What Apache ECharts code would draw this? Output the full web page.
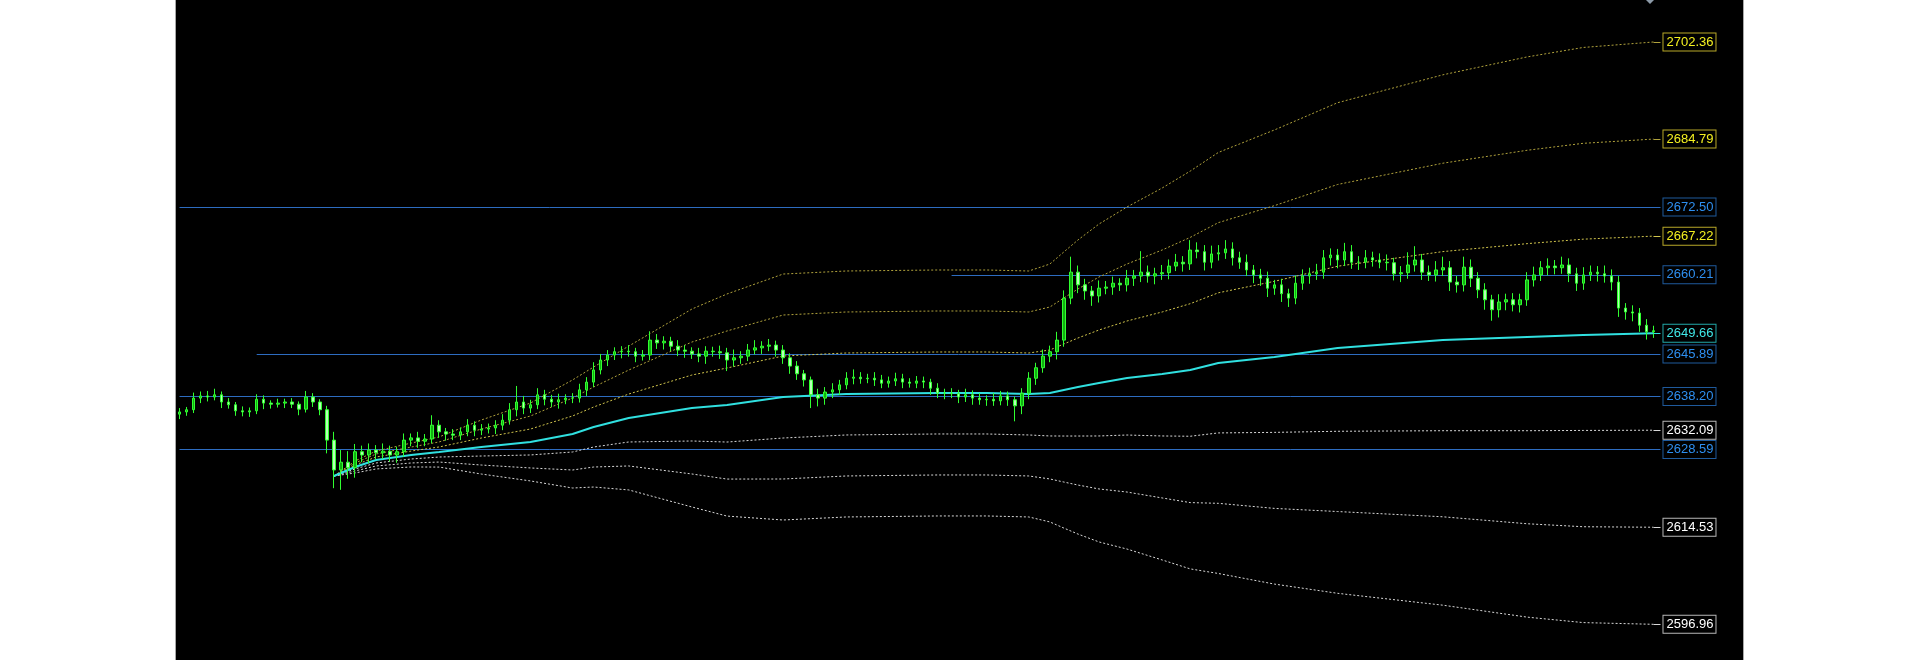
<!DOCTYPE html>
<html><head><meta charset="utf-8">
<script src="https://cdn.jsdelivr.net/npm/echarts@6/dist/echarts.min.js"></script>
<style>
html,body{margin:0;padding:0;background:#fff;width:1920px;height:660px;overflow:hidden}
#chart{position:absolute;left:175px;top:0;width:1567px;height:660px;border-left:1px solid #a8a8a8;border-right:1px solid #a8a8a8;}
</style></head><body><div id="chart"></div>
<script>
// ---- price candles (close values; open = previous close) ----
const firstOpen = 2635.0;
const closes = [
2635.4,2635.8,2637.9,2638.3,2638.1,2638.5,2637.2,2636.7,2635.6,2635.4,
2635.6,2637.7,2637.0,2636.8,2637.0,2637.2,2636.8,2635.9,2638.1,2637.2,
2635.8,2630.3,2624.9,2626.3,2625.3,2628.2,2627.6,2628.5,2628.0,2628.3,
2627.6,2628.2,2630.3,2630.7,2630.1,2630.5,2633.0,2631.8,2631.4,2631.2,
2631.8,2633.0,2632.1,2632.3,2632.5,2633.0,2633.9,2635.8,2637.2,2636.1,
2636.7,2638.5,2637.7,2637.2,2637.6,2637.9,2637.9,2639.4,2640.8,2643.0,
2644.8,2645.7,2646.3,2646.4,2646.3,2645.5,2645.7,2648.4,2647.9,2648.2,
2647.3,2646.6,2646.4,2645.9,2645.5,2646.4,2646.3,2646.1,2644.8,2645.2,
2645.5,2646.6,2647.0,2647.3,2647.5,2646.6,2645.2,2643.7,2642.3,2641.2,
2638.5,2637.9,2639.0,2639.4,2640.3,2641.5,2641.7,2641.4,2641.5,2641.2,
2640.6,2641.0,2641.4,2640.8,2640.6,2641.0,2640.8,2639.7,2638.8,2638.8,
2638.7,2638.1,2638.5,2637.9,2637.6,2637.7,2637.4,2638.3,2637.6,2636.5,
2638.8,2641.5,2643.4,2645.5,2646.3,2648.4,2656.0,2660.7,2658.4,2657.3,
2656.4,2657.8,2658.0,2658.7,2658.4,2659.6,2660.0,2660.7,2660.0,2660.4,
2660.6,2661.8,2662.5,2662.2,2664.7,2664.4,2662.5,2664.0,2664.2,2664.9,
2663.3,2662.5,2661.1,2660.2,2659.6,2657.8,2658.4,2656.8,2656.0,2658.7,
2660.0,2660.4,2660.7,2663.3,2663.8,2662.9,2664.4,2662.5,2662.5,2663.3,
2662.9,2662.5,2662.4,2660.4,2660.6,2662.0,2662.9,2660.7,2660.2,2661.1,
2661.5,2658.9,2658.4,2661.6,2659.6,2657.5,2655.7,2653.9,2655.3,2655.7,
2654.8,2655.7,2659.3,2660.2,2661.5,2661.8,2661.5,2662.0,2660.4,2658.7,
2660.2,2660.7,2660.4,2660.0,2658.9,2654.2,2653.5,2653.3,2651.1,2649.9,2650.1
];
const hiWick = [
.7,.5,1.0,.8,.9,1.1,.6,.7,.5,.8, .6,.9,.7,.5,.8,.6,.7,.5,1.1,.7,
.5,.7,1.5,2.2,2.0,1.4,1.1,1.2,.9,1.4, 1.0,.9,1.2,.8,1.1,.9,1.8,.9,.7,.9,
.8,1.1,.7,.9,.8,.9,1.1,1.2,2.9,1.1, .9,1.2,.9,.8,1.1,.7,.9,1.1,.9,1.4,
1.1,.9,.8,.9,1.1,.7,.9,1.6,1.1,.9, .8,1.1,.9,.7,1.1,.9,.8,1.1,.9,1.5,
.9,1.1,1.4,.9,1.1,.8,.9,.8,.9,.7, .6,1.1,.9,1.2,.9,1.1,1.4,.9,.8,1.1,
.9,.8,1.1,.9,.7,.9,.8,.6,.9,.8, .9,.7,1.1,.8,.9,.7,1.1,.9,.8,.6,
.9,1.1,.9,1.2,1.1,1.5,1.4,2.8,1.2,1.1, .9,1.4,1.1,1.2,.9,1.5,1.1,3.8,1.2,1.1,
1.4,1.2,1.5,1.1,1.8,1.4,1.2,1.5,1.4,1.6, 1.2,1.1,1.4,.9,1.1,1.2,.9,1.1,.9,1.4,
1.2,1.1,1.5,1.4,1.2,1.1,1.6,1.2,1.1,1.4, 1.1,1.2,1.4,.9,1.2,2.3,2.5,1.1,1.2,1.6,
2.0,1.2,1.1,1.9,1.4,1.1,1.2,.9,1.4,1.1, 1.2,1.1,1.4,1.5,1.2,1.4,1.1,1.5,1.2,1.1,
1.4,1.2,1.1,1.5,1.2,1.1,.9,1.2,.9,1.1,.9
];
const loWick = [
.9,.7,.6,.9,.8,.6,1.1,.7,.9,.8, .9,.6,1.1,.8,.6,.9,.7,1.1,.6,.9,
1.0,2.4,3.3,3.6,2.0,1.8,1.3,1.5,1.2,1.1, 1.2,1.4,.9,1.1,1.2,.9,.8,1.1,1.2,.9,
.9,.8,1.1,.9,.8,1.1,.9,.8,1.2,1.1, .9,.8,1.1,.9,1.2,.8,.9,.8,1.1,.9,
.8,1.1,.9,1.2,.9,1.1,.8,.9,1.1,1.2, .9,1.1,1.2,.9,1.1,1.4,.9,1.1,2.0,1.2,
1.1,.9,.8,1.1,.9,1.2,1.1,1.4,1.1,1.2, 2.4,1.5,1.2,1.1,.9,.8,1.1,.9,.8,1.1,
.9,.8,.9,1.1,.8,.9,1.1,1.2,.9,1.1, .8,1.1,.9,1.2,.9,1.1,.9,.8,1.1,2.8,
1.5,1.1,1.2,.9,1.1,1.4,1.2,1.1,1.5,1.6, 1.8,1.2,1.1,1.4,1.1,1.2,1.4,1.1,1.2,1.5,
1.1,1.2,.9,1.4,1.1,1.2,1.5,1.1,1.2,1.1, 1.4,1.2,1.1,1.5,1.4,1.6,1.2,1.5,1.6,1.1,
1.2,1.4,1.1,1.2,1.4,1.5,1.1,1.2,1.4,1.1, 1.2,1.1,1.4,1.2,1.5,1.1,1.2,1.4,1.1,1.2,
1.1,1.6,1.4,1.2,1.6,1.5,1.8,2.0,1.4,1.5, 1.2,1.4,1.1,1.2,1.1,1.4,1.2,1.1,1.5,1.4,
1.2,1.1,1.4,1.2,1.5,1.6,1.4,1.5,1.2,1.4,1.1
];
// ---- VWAP and deviation bands, read at these candle indices ----
const lineIdx = [22,25,28,33,37,43,50,56,59,64,73,78,86,95,108,115,121,124,126,128,131,135,140,144,148,156,165,180,192,200,210];
const vwap   = [2623.80,2625.43,2626.70,2627.60,2628.15,2629.05,2629.96,2631.41,2632.67,2634.30,2636.11,2636.65,2638.10,2638.65,2638.83,2638.83,2638.65,2638.83,2639.37,2639.91,2640.64,2641.54,2642.27,2642.99,2644.26,2645.34,2646.97,2648.42,2648.96,2649.32,2649.66];
const upper1 = [2623.80,2625.79,2627.24,2628.32,2629.06,2630.68,2632.31,2634.67,2636.29,2638.64,2642.08,2643.35,2645.52,2646.07,2646.25,2646.25,2646.07,2646.61,2647.70,2648.78,2650.23,2651.86,2653.49,2654.99,2656.96,2659.04,2661.77,2664.42,2665.86,2666.67,2667.22];
const upper2 = [2623.80,2626.15,2627.78,2629.04,2629.97,2632.31,2634.66,2637.93,2639.91,2642.98,2648.05,2650.05,2652.94,2653.49,2653.67,2653.67,2653.49,2654.39,2656.03,2657.65,2659.82,2662.18,2664.71,2666.99,2669.66,2672.74,2676.57,2680.42,2682.76,2684.02,2684.79];
const upper3 = [2623.80,2626.51,2628.32,2629.76,2630.88,2633.94,2637.01,2641.19,2643.53,2647.32,2654.02,2656.75,2660.36,2660.91,2661.09,2661.09,2660.91,2662.17,2664.36,2666.52,2669.41,2672.50,2675.93,2678.99,2682.36,2686.44,2691.37,2696.42,2699.66,2701.37,2702.36];
const lower1 = [2623.80,2625.07,2626.16,2626.88,2627.24,2627.42,2627.61,2628.15,2629.05,2629.96,2630.14,2629.95,2630.68,2631.23,2631.41,2631.41,2631.23,2631.05,2631.04,2631.04,2631.05,2631.22,2631.05,2631.00,2631.60,2631.70,2631.90,2632.00,2632.00,2632.05,2632.09];
const lower2 = [2623.80,2624.71,2625.62,2626.16,2626.33,2625.79,2625.26,2624.89,2625.43,2625.62,2624.17,2623.25,2623.26,2623.81,2623.99,2623.99,2623.81,2623.27,2622.71,2622.17,2621.46,2620.90,2619.83,2618.99,2618.86,2617.94,2617.37,2616.42,2615.16,2614.62,2614.53];
const lower3 = [2623.80,2624.35,2625.08,2625.44,2625.42,2624.16,2622.91,2621.63,2621.81,2621.28,2618.20,2616.55,2615.84,2616.39,2616.57,2616.57,2616.39,2615.49,2614.38,2613.30,2611.87,2610.58,2608.61,2606.99,2606.16,2604.24,2602.57,2600.42,2598.26,2597.27,2596.96];
// ---- horizontal levels ----
const levelValues = [2672.50, 2660.21, 2645.89, 2638.20, 2628.59];
const levelStartIdx = [0, 110, 11, 0, 0];
const totalSlots = 212;

const FONT = 'Liberation Sans';
const categories = Array.from({length: totalSlots}, (_, i) => String(i));
const ohlc = closes.map((c, i) => {
  const o = i === 0 ? firstOpen : closes[i - 1];
  return [o, c, Math.min(o, c) - loWick[i], Math.max(o, c) + hiWick[i]];
});
const endIdx = totalSlots - 1;

function tag(text, color, border) {
  return {
    show: true, position: 'end', distance: 3, formatter: text,
    color: color, backgroundColor: '#000', borderColor: border, borderWidth: 1,
    padding: [1, 2, 1, 3], fontFamily: FONT, fontSize: 13, lineHeight: 15
  };
}

function bandSeries(name, values, color, labelColor, borderColor, width, dash) {
  const last = values[values.length - 1];
  return {
    name, type: 'line', z: 2, showSymbol: false, silent: true, animation: false,
    data: lineIdx.map((ix, k) => [ix, values[k]]),
    lineStyle: { color, width, type: dash },
    markLine: {
      silent: true, symbol: ['none', 'none'], animation: false,
      data: [[
        { coord: [lineIdx[lineIdx.length - 1], last], lineStyle: { color, width: 1, type: 'solid' },
          label: tag(last.toFixed(2), labelColor, borderColor) },
        { coord: [endIdx, last] }
      ]]
    }
  };
}

const levelLines = levelValues.map((v, k) => [
  { coord: [levelStartIdx[k], v], lineStyle: { color: '#2d6cc0', width: 1, type: 'solid' },
    label: tag(v.toFixed(2), '#2e8ff0', '#1f5a9c') },
  { coord: [endIdx, v] }
]);

const chart = echarts.init(document.getElementById('chart'), null, { renderer: 'canvas' });
chart.setOption({
  backgroundColor: '#000',
  animation: false,
  grid: { left: 0, right: 79, top: 0, bottom: 0 },
  xAxis: { type: 'category', data: categories, boundaryGap: true,
    axisLine: { show: false }, axisTick: { show: false }, axisLabel: { show: false }, splitLine: { show: false } },
  yAxis: { type: 'value', min: 2590.5, max: 2709.96, scale: true,
    axisLine: { show: false }, axisTick: { show: false }, axisLabel: { show: false }, splitLine: { show: false } },
  graphic: [{ type: 'polygon', shape: { points: [[1470, 0], [1478, 0], [1474, 4]] }, style: { fill: '#8c9aa8' }, silent: true }],
  series: [
    {
      name: 'price', type: 'candlestick', z: 3, data: ohlc, barWidth: 3,
      itemStyle: { color: '#10b010', color0: '#b8ffb8', borderColor: '#30ff30', borderColor0: '#30ff30', borderWidth: 1 },
      markLine: { silent: true, symbol: ['none', 'none'], animation: false, z: 1, data: levelLines }
    },
    bandSeries('upper3', upper3, '#b0a23c', '#f4f020', '#b8a828', 1, [2, 2]),
    bandSeries('upper2', upper2, '#b0a23c', '#f4f020', '#b8a828', 1, [2, 2]),
    bandSeries('upper1', upper1, '#d0c44c', '#f4f020', '#b8a828', 1, [2, 2]),
    bandSeries('lower1', lower1, '#d8d8d8', '#ffffff', '#b8b8b8', 1, [2, 2]),
    bandSeries('lower2', lower2, '#d8d8d8', '#ffffff', '#b8b8b8', 1, [2, 2]),
    bandSeries('lower3', lower3, '#d8d8d8', '#ffffff', '#b8b8b8', 1, [2, 2]),
    bandSeries('vwap', vwap, '#30e0e0', '#40e8e8', '#22a8a8', 2, 'solid')
  ]
});
</script></body></html>
